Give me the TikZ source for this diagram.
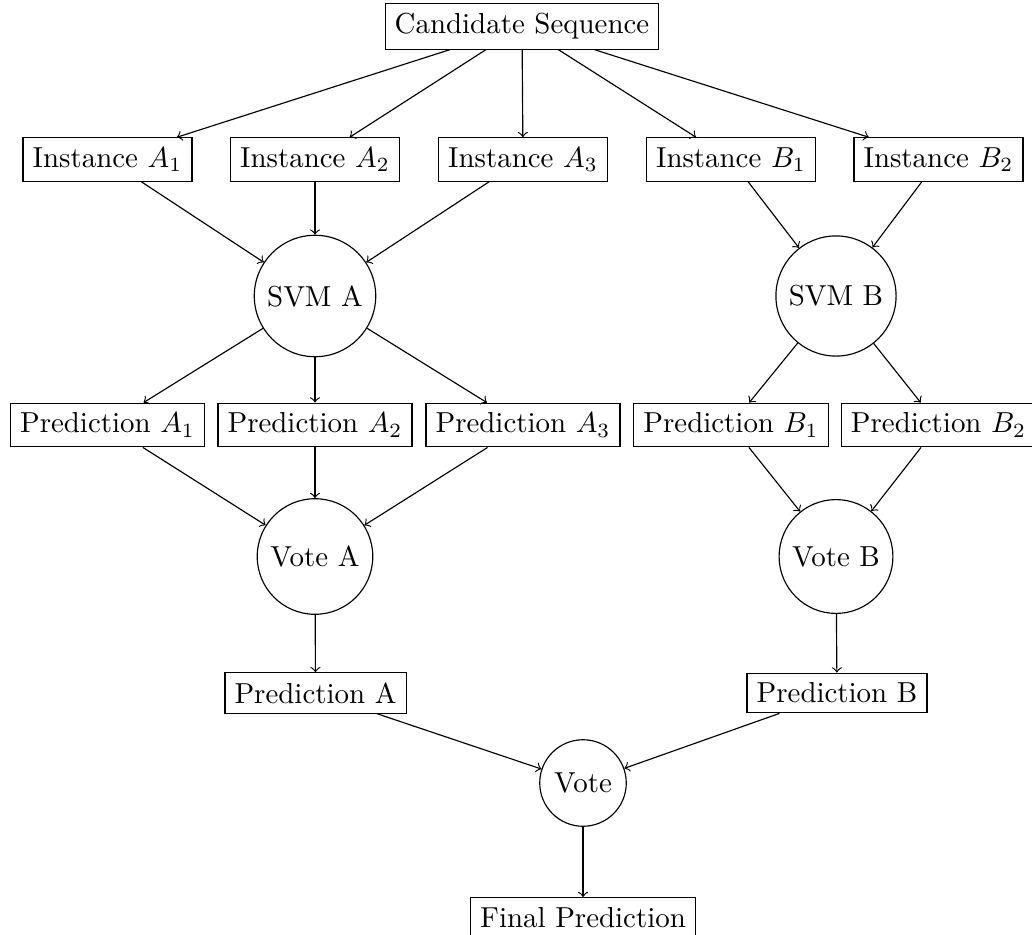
\documentclass[tikz,border=0pt]{standalone}
\begin{document}
\begin{tikzpicture}[x=0.346pt, y=-0.346pt,
    box/.style={draw, rectangle},
    ball/.style={draw, circle},
    flow/.style={->}]
\useasboundingbox (0,0) rectangle (1032,934);

% input
\node[box] (cand) at (522,26.5) {Candidate Sequence};

% instances
\node[box] (ia1) at (107.5,159.5) {Instance $A_1$};
\node[box] (ia2) at (315,159.5) {Instance $A_2$};
\node[box] (ia3) at (523,159.5) {Instance $A_3$};
\node[box] (ib1) at (731,159.5) {Instance $B_1$};
\node[box] (ib2) at (938.5,159.5) {Instance $B_2$};

% classifiers
\node[ball] (svma) at (315,296) {SVM A};
\node[ball] (svmb) at (836,296) {SVM B};

% per-instance predictions
\node[box] (pa1) at (107.5,425) {Prediction $A_1$};
\node[box] (pa2) at (315,425) {Prediction $A_2$};
\node[box] (pa3) at (523,425) {Prediction $A_3$};
\node[box] (pb1) at (731,425) {Prediction $B_1$};
\node[box] (pb2) at (938.5,425) {Prediction $B_2$};

% votes
\node[ball] (vota) at (315,556.5) {Vote A};
\node[ball] (votb) at (836,556.5) {Vote B};

\node[box] (preda) at (315.5,693) {Prediction A};
\node[box] (predb) at (837,693) {Prediction B};

\node[ball] (vote) at (583,783) {Vote};
\node[box] (final) at (583,917.5) {Final Prediction};

% connectors
\foreach \n in {ia1,ia2,ia3,ib1,ib2} \draw[flow] (cand) -- (\n);
\foreach \n in {ia1,ia2,ia3} \draw[flow] (\n) -- (svma);
\foreach \n in {ib1,ib2} \draw[flow] (\n) -- (svmb);
\foreach \n in {pa1,pa2,pa3} \draw[flow] (svma) -- (\n);
\foreach \n in {pb1,pb2} \draw[flow] (svmb) -- (\n);
\foreach \n in {pa1,pa2,pa3} \draw[flow] (\n) -- (vota);
\foreach \n in {pb1,pb2} \draw[flow] (\n) -- (votb);
\draw[flow] (vota) -- (preda);
\draw[flow] (votb) -- (predb);
\draw[flow] (preda) -- (vote);
\draw[flow] (predb) -- (vote);
\draw[flow] (vote) -- (final);
\end{tikzpicture}
\end{document}
